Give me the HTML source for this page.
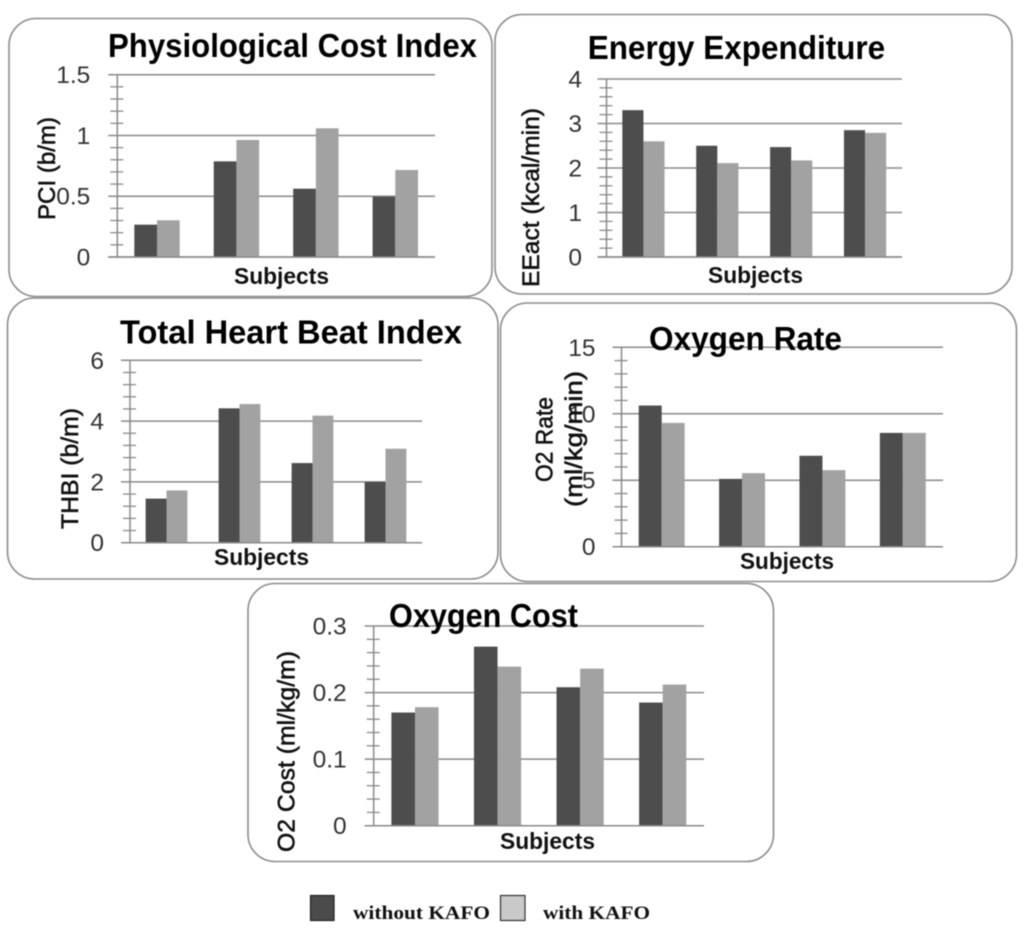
<!DOCTYPE html>
<html lang="en">
<head>
<meta charset="utf-8">
<title>KAFO gait comparison charts</title>
<style>
html,body{margin:0;padding:0;background:#fff;width:1024px;height:935px;overflow:hidden}
#figure{display:block;filter:blur(0.45px)}
text{font-family:"Liberation Sans",sans-serif}
</style>
</head>
<body>
<svg id="figure" xmlns="http://www.w3.org/2000/svg" width="1024" height="935" viewBox="0 0 1024 935">
  <rect x="0" y="0" width="1024" height="935" fill="#fff"/>
  <g>
    <rect x="310.5" y="895.5" width="23.5" height="25" fill="#4b4b4b" stroke="#222" stroke-width="1.2"/>
    <text x="353" y="919" textLength="137" lengthAdjust="spacingAndGlyphs" style="font-family:'Liberation Serif',serif;font-weight:bold;font-size:19px" fill="#111">without KAFO</text>
    <rect x="500.5" y="895.5" width="24.5" height="25" fill="#c9c9c9" stroke="#333" stroke-width="1.2"/>
    <text x="543" y="919" textLength="107" lengthAdjust="spacingAndGlyphs" style="font-family:'Liberation Serif',serif;font-weight:bold;font-size:19px" fill="#111">with KAFO</text>
  </g>
</svg>
<script>
// Data
const subjects = ['S1', 'S2', 'S3', 'S4'];

const pciWithout = [0.266, 0.787, 0.562, 0.496];
const pciWith = [0.302, 0.963, 1.059, 0.716];
const pciTicks = [0, 0.5, 1, 1.5];

const energyWithout = [3.30, 2.50, 2.47, 2.85];
const energyWith = [2.60, 2.11, 2.17, 2.79];
const energyTicks = [0, 1, 2, 3, 4];

const thbiWithout = [1.45, 4.42, 2.62, 2.00];
const thbiWith = [1.72, 4.56, 4.18, 3.09];
const thbiTicks = [0, 2, 4, 6];

const rateWithout = [10.62, 5.10, 6.84, 8.56];
const rateWith = [9.31, 5.53, 5.76, 8.56];
const rateTicks = [0, 5, 10, 15];

const costWithout = [0.170, 0.269, 0.208, 0.185];
const costWith = [0.178, 0.239, 0.236, 0.212];
const costTicks = [0, 0.1, 0.2, 0.3];

const SVG_NS = 'http://www.w3.org/2000/svg';
const root = document.getElementById('figure');
const GRID = '#8a8a8a';
const DARK = '#4d4d4d';
const LIGHT = '#a2a2a2';
const INK = '#111';

function line(parent, x1, y1, x2, y2, width) {
  const el = document.createElementNS(SVG_NS, 'line');
  el.setAttribute('x1', x1);
  el.setAttribute('y1', y1);
  el.setAttribute('x2', x2);
  el.setAttribute('y2', y2);
  el.setAttribute('stroke', GRID);
  el.setAttribute('stroke-width', width);
  parent.appendChild(el);
  return el;
}

function label(parent, str, x, y, size, weight, fill, length, rotated) {
  const el = document.createElementNS(SVG_NS, 'text');
  el.textContent = str;
  el.setAttribute('x', x);
  el.setAttribute('y', y);
  el.setAttribute('font-size', size);
  el.setAttribute('font-weight', weight);
  el.setAttribute('fill', fill);
  if (length) {
    el.setAttribute('textLength', length);
    el.setAttribute('lengthAdjust', 'spacingAndGlyphs');
  }
  if (rotated) {
    el.setAttribute('transform', 'rotate(-90 ' + x + ' ' + y + ')');
  }
  parent.appendChild(el);
  return el;
}

function drawChart(c) {
  const g = document.createElementNS(SVG_NS, 'g');
  
  
  root.appendChild(g);

  const panel = document.createElementNS(SVG_NS, 'rect');
  panel.setAttribute('x', c.panel.x);
  panel.setAttribute('y', c.panel.y);
  panel.setAttribute('width', c.panel.w);
  panel.setAttribute('height', c.panel.h);
  panel.setAttribute('rx', 27);
  panel.setAttribute('ry', 27);
  panel.setAttribute('fill', '#fff');
  panel.setAttribute('stroke', '#8c8c8c');
  panel.setAttribute('stroke-width', 1.6);
  
  
  g.appendChild(panel);

  const maxV = c.ticks[c.ticks.length - 1];
  const yScale = function (v) { return c.bottom - (v / maxV) * (c.bottom - c.top); };
  const band = (c.right - c.axis) / c.categories.length;
  const xCenter = function (i) { return c.axis + band * (i + 0.5); };
  const barW = band / 3.5;

  // y axis line
  const axisLine = line(g, c.axis, c.top, c.axis, c.bottom, 1.5);
  
  

  // major gridlines and tick labels
  c.ticks.forEach(function (t) {
    const y = yScale(t);
    const grid = line(g, c.axis - 9, y, c.right, y, 1.5);
    
    
    const tl = label(g, String(t), c.axis - c.labelGap, y + 8.5, 24.5, 'normal', '#333');
    tl.setAttribute('text-anchor', 'end');
    
    
  });

  // minor ticks: five divisions for each major interval
  for (let m = 0; m < c.ticks.length - 1; m++) {
    for (let k = 1; k < 5; k++) {
      const v = c.ticks[m] + (c.ticks[m + 1] - c.ticks[m]) * k / 5;
      const y = yScale(v);
      const tick = line(g, c.axis - 7, y, c.axis + 6, y, 1.3);
      
      
    }
  }

  // bars
  c.categories.forEach(function (cat, i) {
    [[c.without, DARK, 'without-kafo', -barW], [c.withK, LIGHT, 'with-kafo', 0]].forEach(function (s) {
      const y = yScale(s[0][i]);
      const bar = document.createElementNS(SVG_NS, 'rect');
      bar.setAttribute('x', xCenter(i) + s[3]);
      bar.setAttribute('y', y);
      bar.setAttribute('width', barW);
      bar.setAttribute('height', c.bottom - y);
      bar.setAttribute('fill', s[1]);
      
      
      g.appendChild(bar);
    });
  });

  // x axis baseline above the bars
  const base = line(g, c.axis - 9, c.bottom, c.right, c.bottom, 1.5);
  
  

  // y axis title (one or more rotated lines)
  c.yTitles.forEach(function (t) {
    const yt = label(g, t.text, t.x, t.y, 24.5, 'normal', INK, t.len, true);
    yt.setAttribute('stroke', INK);
    yt.setAttribute('stroke-width', 0.55);
    
    
  });

  // x axis title
  const xt = label(g, 'Subjects', c.xTitle.x, c.xTitle.y, 23, 'bold', INK, c.xTitle.len);
  
  

  // chart title
  const ti = label(g, c.title.text, c.title.x, c.title.y, 33, 'bold', '#000', c.title.len);
  
  
}

drawChart({
  id: 'physiological-cost-index',
  panel: { x: 9, y: 18.5, w: 483, h: 278 },
  axis: 117.3, right: 435, top: 74.7, bottom: 257, labelGap: 27,
  categories: subjects, without: pciWithout, withK: pciWith, ticks: pciTicks,
  title: { text: 'Physiological Cost Index', x: 108, y: 57, len: 369 },
  xTitle: { x: 234, y: 284, len: 95 },
  yTitles: [{ text: 'PCI (b/m)', x: 55, y: 220, len: 103 }]
});

drawChart({
  id: 'energy-expenditure',
  panel: { x: 495, y: 14.5, w: 517, h: 279.5 },
  axis: 606.5, right: 902, top: 79, bottom: 257, labelGap: 24.5,
  categories: subjects, without: energyWithout, withK: energyWith, ticks: energyTicks,
  title: { text: 'Energy Expenditure', x: 587.7, y: 59, len: 297.5 },
  xTitle: { x: 708, y: 283, len: 95 },
  yTitles: [{ text: 'EEact (kcal/min)', x: 539, y: 287, len: 179 }]
});

drawChart({
  id: 'total-heart-beat-index',
  panel: { x: 7.5, y: 298, w: 490.5, h: 281 },
  axis: 130, right: 422, top: 360.3, bottom: 542.7, labelGap: 26,
  categories: subjects, without: thbiWithout, withK: thbiWith, ticks: thbiTicks,
  title: { text: 'Total Heart Beat Index', x: 120, y: 343.3, len: 342 },
  xTitle: { x: 214, y: 565, len: 95 },
  yTitles: [{ text: 'THBI (b/m)', x: 78, y: 529, len: 121 }]
});

drawChart({
  id: 'oxygen-rate',
  panel: { x: 500.5, y: 303, w: 516, h: 278.5 },
  axis: 621.5, right: 943, top: 347.3, bottom: 546.7, labelGap: 26,
  categories: subjects, without: rateWithout, withK: rateWith, ticks: rateTicks,
  title: { text: 'Oxygen Rate', x: 649, y: 350, len: 193 },
  xTitle: { x: 740, y: 569, len: 94 },
  yTitles: [
    { text: 'O2 Rate', x: 552.5, y: 482, len: 85 },
    { text: '(ml/kg/min)', x: 582, y: 507, len: 136 }
  ]
});

drawChart({
  id: 'oxygen-cost',
  panel: { x: 248, y: 583.5, w: 525.5, h: 278 },
  axis: 373.7, right: 704, top: 626, bottom: 825.7, labelGap: 27,
  categories: subjects, without: costWithout, withK: costWith, ticks: costTicks,
  title: { text: 'Oxygen Cost', x: 389, y: 627, len: 189 },
  xTitle: { x: 500, y: 849, len: 95 },
  yTitles: [{ text: 'O2 Cost (ml/kg/m)', x: 294.5, y: 852, len: 201 }]
});
</script>
</body>
</html>
